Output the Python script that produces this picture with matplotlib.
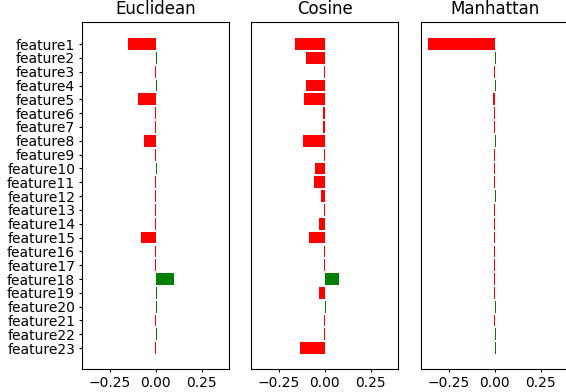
import matplotlib
matplotlib.use("Agg")
import matplotlib.pyplot as plt
import numpy as np

# feature names, top to bottom
features = ["feature%d" % i for i in range(1, 24)]

# weights (negative = red, positive = green)
euclidean = [-0.153, 0.005, -0.005, 0.005, -0.098, -0.005, -0.005, -0.066,
             -0.005, 0.005, -0.005, -0.005, -0.005, -0.005, -0.077, -0.005,
             -0.005, 0.098, 0.005, 0.010, -0.005, 0.010, -0.005]
cosine = [-0.160, -0.099, -0.005, -0.099, -0.110, -0.010, -0.008, -0.116,
          -0.005, -0.050, -0.055, -0.017, -0.005, -0.028, -0.083, -0.005,
          -0.005, 0.077, -0.033, 0.006, -0.005, -0.005, -0.132]
manhattan = [-0.360, 0.005, -0.005, 0.005, -0.010, -0.005, -0.005, 0.005,
             -0.005, -0.005, -0.005, 0.005, -0.005, -0.005, -0.005, -0.005,
             -0.005, -0.005, -0.005, 0.005, -0.005, 0.005, 0.005]

panels = [("Euclidean", euclidean), ("Cosine", cosine), ("Manhattan", manhattan)]

fig = plt.figure(figsize=(5.66, 3.92), dpi=100)
lefts = [0.145, 0.4435, 0.744]
width = 0.26
ypos = np.arange(len(features))

for i, (name, vals) in enumerate(panels):
    ax = fig.add_axes([lefts[i], 0.059, width, 0.885])
    vals = np.array(vals)
    colors = np.where(vals < 0, "red", "green")
    ax.barh(ypos, vals, height=0.85, color=colors)
    ax.set_xlim(-0.4, 0.4)
    ax.set_ylim(23.5, -1.6)
    ax.set_xticks([-0.25, 0.0, 0.25])
    ax.tick_params(axis="both", labelsize=10, length=2.5, pad=2.5)
    ax.set_title(name, fontsize=12)
    if i == 0:
        ax.set_yticks(ypos)
        ax.set_yticklabels(features)
    else:
        ax.set_yticks([])

fig.savefig("out.png", dpi=100)
